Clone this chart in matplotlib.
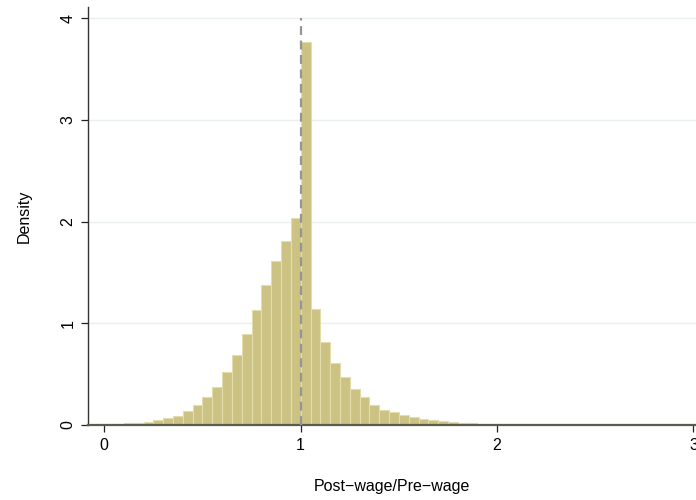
import matplotlib
matplotlib.use("Agg")
import matplotlib.pyplot as plt

# histogram of wage ratios, bins of width 0.05 starting at 0
bin_width = 0.05
bin_left = [round(i * bin_width, 2) for i in range(60)]
density = [
    0.005, 0.010, 0.015, 0.020, 0.033, 0.050, 0.066, 0.092, 0.135, 0.195,
    0.274, 0.373, 0.520, 0.687, 0.895, 1.130, 1.380, 1.610, 1.810, 2.040,
    3.770, 1.140, 0.819, 0.611, 0.475, 0.356, 0.274, 0.200, 0.152, 0.125,
    0.099, 0.083, 0.060, 0.050, 0.037, 0.027, 0.020, 0.017, 0.013, 0.010,
    0.008, 0.007, 0.006, 0.005, 0.004, 0.003, 0.003, 0.002, 0.002, 0.002,
    0.002, 0.002, 0.001, 0.001, 0.001, 0.001, 0.001, 0.001, 0.001, 0.001,
]
ref_value = 1.0
x_ticks = [0, 1, 2, 3]
y_ticks = [0, 1, 2, 3, 4]

plt.rcParams['font.family'] = ['Liberation Sans', 'DejaVu Sans']

fig = plt.figure(figsize=(6.96, 5.0), dpi=100)
ax = fig.add_axes([88 / 696, 75 / 500, 1 - 88 / 696, 418.3 / 500])

ax.bar(bin_left, density, width=bin_width, align='edge',
       color='#cbc283', edgecolor='#e2ddab', linewidth=0.8, zorder=2)

ax.vlines(ref_value, 0, 4.0, colors='#959595', linestyles=(0, (4, 2.5)),
          linewidth=1.6, zorder=3)

ax.set_xlim(-0.083, 3.013)
ax.set_ylim(0, 4.114)
ax.set_xticks(x_ticks)
ax.set_yticks(y_ticks)
ax.set_xticklabels([str(t) for t in x_ticks])
ax.set_yticklabels([str(t) for t in y_ticks], rotation=90, va='center')

ax.grid(axis='y', color='#eaf0f2', linewidth=1.0, zorder=0)
ax.set_axisbelow(True)

for side in ['top', 'right']:
    ax.spines[side].set_visible(False)
ax.spines['left'].set_color('#333333')
ax.spines['left'].set_linewidth(1.0)
ax.spines['bottom'].set_color('#5c5c4c')
ax.spines['bottom'].set_linewidth(1.6)

ax.tick_params(axis='both', direction='out', length=5, width=0.9,
               color='#222222', labelsize=11.5, pad=4)

ax.set_xlabel('Post\u2212wage/Pre\u2212wage', fontsize=11.5, labelpad=19)
ax.set_ylabel('Density', fontsize=11.5, labelpad=21)

fig.savefig('out.png', dpi=100)
